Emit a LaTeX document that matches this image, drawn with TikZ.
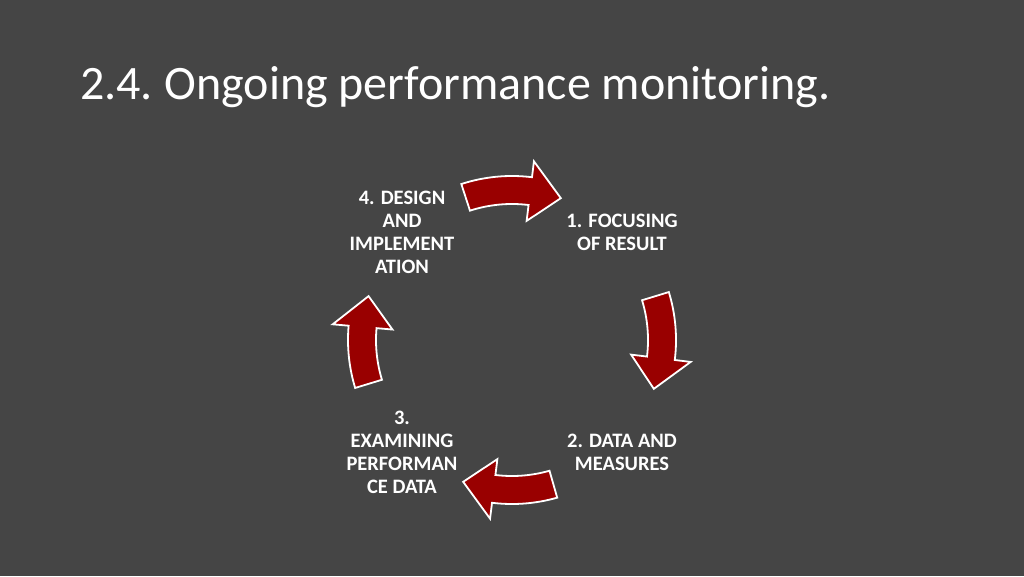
\documentclass[tikz,border=0pt]{standalone}
\usepackage{fontspec}
\setmainfont{Carlito}
\begin{document}
\begin{tikzpicture}[x=1pt,y=1pt,
  lbl/.style={text=white,font=\fontsize{20.5}{23}\selectfont\bfseries,align=center},
  carrowstyle/.style={fill=red!60!black,draw=white,line width=1.8pt,line join=miter}]
\fill[black!73] (0,0) rectangle (1024,576);
\useasboundingbox (0,0) rectangle (1024,576);
\node[anchor=base west,text=white,font=\fontsize{48}{54}\selectfont,inner sep=0pt] (title) at (80,476) {2.4.\kern-3pt{} Ongoing performance monitoring.};
\coordinate (c) at (512,236);
\newcommand\carrow[2]{%
  \pgfmathsetmacro\ah{#2+12}%
  \filldraw[carrowstyle,shift={(c)}] (#1:164) arc[start angle=#1,end angle=\ah,radius=164] -- (\ah:180) -- (#2:150) -- (\ah:120) -- (\ah:136) arc[start angle=\ah,end angle=#1,radius=136] -- cycle;}
\carrow{108}{71}
\carrow{17}{-19}
\carrow{-74}{-109}
\carrow{-163}{-197}
\node[lbl] (n4) at (402,344) {4. DESIGN\\AND\\IMPLEMENT\\ATION};
\node[lbl] (n1) at (622,344) {1. FOCUSING\\OF RESULT};
\node[lbl] (n2) at (622,124) {2. DATA AND\\MEASURES};
\node[lbl] (n3) at (402,124) {3.\\EXAMINING\\PERFORMAN\\CE DATA};
\end{tikzpicture}
\end{document}
